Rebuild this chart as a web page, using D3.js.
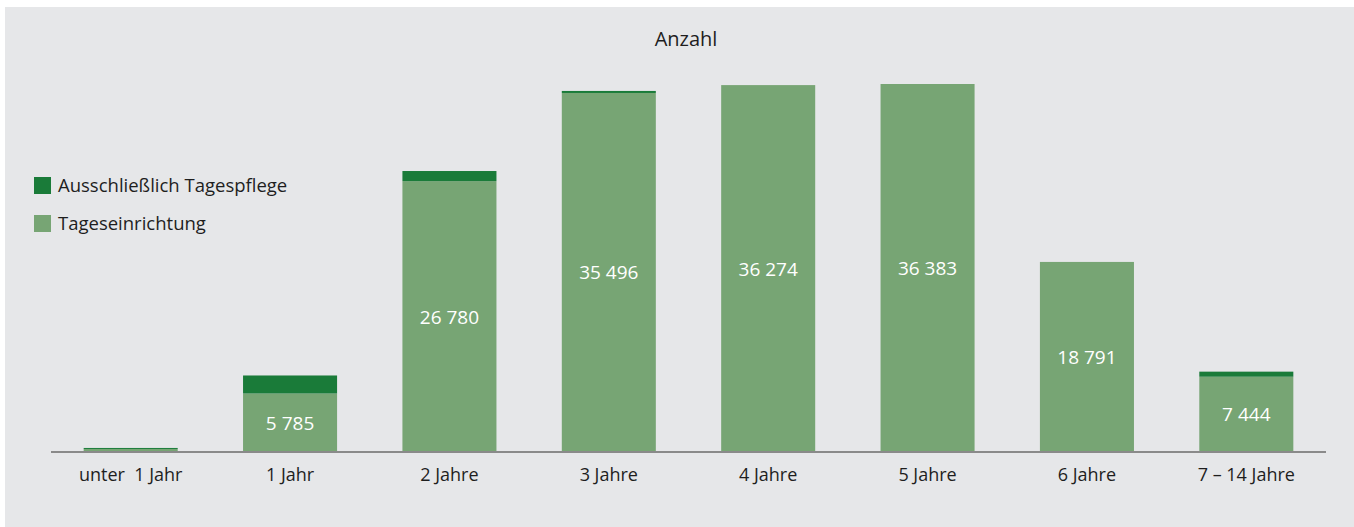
<!DOCTYPE html>
<html><head><meta charset="utf-8">
<script src="https://cdn.jsdelivr.net/npm/d3@7"></script>
<style>html,body{margin:0;padding:0;background:#fff;}svg{display:block;}</style>
</head><body>
<svg id="c" width="1354" height="527"></svg>
<script>
const categories = ["unter  1 Jahr","1 Jahr","2 Jahre","3 Jahre","4 Jahre","5 Jahre","6 Jahre","7 – 14 Jahre"];
const tageseinrichtung = [300, 5785, 26780, 35496, 36274, 36383, 18791, 7444];
const tagespflege = [100, 1780, 1000, 200, 0, 0, 0, 500];
const valueLabels = ["", "5 785", "26 780", "35 496", "36 274", "36 383", "18 791", "7 444"];
const seriesNames = ["Ausschließlich Tagespflege", "Tageseinrichtung"];
const colors = {pflege:"#1a7b39", einr:"#77a574"};

const svg = d3.select("#c");
const font = "'Open Sans', 'Noto Sans', sans-serif";
svg.append("rect").attr("x",5).attr("y",7).attr("width",1349).attr("height",520).attr("fill","#e6e7e9");

const baseY = 452;
const x = d3.scaleBand().domain(categories).range([51,1326]).paddingInner(0.41).paddingOuter(0.205);
const y = d3.scaleLinear().domain([0, 36383]).range([baseY, 84]);

const data = categories.map((c,i)=>({c, e:tageseinrichtung[i], p:tagespflege[i], l:valueLabels[i]}));
const g = svg.append("g");
g.selectAll("rect.e").data(data).join("rect").attr("class","e")
  .attr("x",d=>x(d.c)).attr("width",x.bandwidth())
  .attr("y",d=>y(d.e)).attr("height",d=>baseY-y(d.e)).attr("fill",colors.einr);
g.selectAll("rect.p").data(data.filter(d=>d.p>0)).join("rect").attr("class","p")
  .attr("x",d=>x(d.c)).attr("width",x.bandwidth())
  .attr("y",d=>y(d.e+d.p)).attr("height",d=>y(d.e)-y(d.e+d.p)).attr("fill",colors.pflege);
g.selectAll("text.v").data(data).join("text").attr("class","v")
  .attr("x",d=>x(d.c)+x.bandwidth()/2).attr("y",d=>(y(d.e)+baseY)/2+7)
  .attr("text-anchor","middle").attr("fill","#fff").attr("font-family",font).attr("font-size",19)
  .text(d=>d.l);

const axis = d3.axisBottom(x).tickSize(0).tickPadding(16);
const ax = svg.append("g").attr("transform",`translate(0,${baseY})`).call(axis);
ax.select(".domain").attr("stroke","#8a8a8a").attr("stroke-width",2).attr("d","M51,0H1326");
ax.selectAll("text").attr("font-family",font).attr("font-size",18).attr("fill","#1e1e1e").style("white-space","pre");

svg.append("text").attr("x",686).attr("y",46).attr("text-anchor","middle")
  .attr("font-family",font).attr("font-size",20).attr("fill","#1e1e1e").text("Anzahl");

const leg = svg.append("g");
[[seriesNames[0],colors.pflege,186],[seriesNames[1],colors.einr,224]].forEach(([t,c,yy])=>{
  leg.append("rect").attr("x",34).attr("y",yy-9).attr("width",17).attr("height",17).attr("fill",c);
  leg.append("text").attr("x",58).attr("y",yy+6).attr("font-family",font).attr("font-size",18.5).attr("fill","#1e1e1e").text(t);
});
</script>
</body></html>
